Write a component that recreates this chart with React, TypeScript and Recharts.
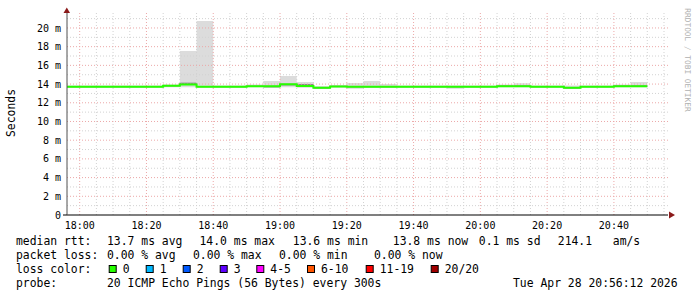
import React from 'react';
import { ComposedChart, Area, Line, XAxis, YAxis, ReferenceLine } from 'recharts';

// minutes relative to 18:00, start of each 5-minute step
const intervalStarts = [-5, 0, 5, 10, 15, 20, 25, 30, 35, 40, 45, 50, 55, 60, 65, 70, 75, 80, 85, 90, 95, 100, 105, 110, 115, 120, 125, 130, 135, 140, 145, 150, 155, 160, 165];
// median rtt in ms
const medianRtt = [13.72, 13.72, 13.72, 13.72, 13.72, 13.72, 13.82, 13.95, 13.72, 13.72, 13.72, 13.76, 13.76, 13.98, 13.8, 13.6, 13.75, 13.72, 13.72, 13.72, 13.72, 13.72, 13.72, 13.72, 13.72, 13.72, 13.78, 13.78, 13.72, 13.72, 13.6, 13.72, 13.72, 13.78, 13.78];
const smokeMin = [13.65, 13.65, 13.65, 13.65, 13.65, 13.65, 13.65, 13.65, 13.65, 13.65, 13.65, 13.65, 13.62, 13.65, 13.62, 13.5, 13.62, 13.5, 13.62, 13.62, 13.65, 13.65, 13.65, 13.5, 13.65, 13.65, 13.65, 13.65, 13.65, 13.65, 13.5, 13.65, 13.65, 13.65, 13.65];
const smokeMax = [13.85, 13.85, 13.85, 13.85, 13.85, 13.85, 13.95, 17.55, 20.75, 13.85, 13.85, 13.96, 14.33, 14.87, 14.22, 13.8, 13.9, 14.12, 14.33, 14.0, 13.85, 13.85, 13.85, 13.85, 13.85, 13.85, 13.95, 14.1, 13.85, 13.85, 13.85, 13.85, 13.85, 13.95, 14.22];
// darker core of the smoke (central pings)
const coreMin = [13.72, 13.72, 13.72, 13.72, 13.72, 13.72, 13.82, 13.95, 13.72, 13.72, 13.72, 13.76, 13.7, 13.9, 13.8, 13.6, 13.75, 13.72, 13.72, 13.72, 13.72, 13.72, 13.72, 13.72, 13.72, 13.72, 13.78, 13.78, 13.72, 13.72, 13.6, 13.72, 13.72, 13.78, 13.78];
const coreMax = [13.72, 13.72, 13.72, 13.72, 13.72, 13.72, 13.82, 14.1, 13.72, 13.72, 13.72, 13.76, 13.76, 13.98, 13.95, 13.6, 13.75, 13.72, 13.72, 13.72, 13.72, 13.72, 13.72, 13.72, 13.72, 13.72, 13.78, 13.78, 13.72, 13.72, 13.6, 13.72, 13.72, 13.78, 13.78];

const xDomain = [-3.8, 176.2];
const xTickValues = [0, 20, 40, 60, 80, 100, 120, 140, 160];
const xTickLabels = ['18:00', '18:20', '18:40', '19:00', '19:20', '19:40', '20:00', '20:20', '20:40'];
const xMinorGrid = [0, 5, 10, 15, 20, 25, 30, 35, 40, 45, 50, 55, 60, 65, 70, 75, 80, 85, 90, 95, 100, 105, 110, 115, 120, 125, 130, 135, 140, 145, 150, 155, 160, 165, 170, 175];
const yDomain = [0, 21.6];
const yTickValues = [0, 2, 4, 6, 8, 10, 12, 14, 16, 18, 20];
const yTickLabels = ['0', '2 m', '4 m', '6 m', '8 m', '10 m', '12 m', '14 m', '16 m', '18 m', '20 m'];
const yMinorGrid = [1, 3, 5, 7, 9, 11, 13, 15, 17, 19, 21];

const statsRow1 = [
  [16, 'median rtt:'], [107, '13.7 ms avg'], [199.5, '14.0 ms max'], [292.8, '13.6 ms min'],
  [392.8, '13.8 ms now'], [478.8, '0.1 ms sd'], [557.8, '214.1'], [612.8, 'am/s'],
];
const statsRow2 = [
  [16, 'packet loss:'], [107, '0.00 % avg'], [193, '0.00 % max'], [279, '0.00 % min'], [374, '0.00 % now'],
];
const lossLabels = ['0', '1', '2', '3', '4-5', '6-10', '11-19', '20/20'];
const lossColors = ['#26ff00', '#00b8ff', '#0059ff', '#5e00ff', '#ff00ff', '#ff5500', '#ff0000', '#a00000'];
const lossX = [108.7, 145.7, 182.7, 219.7, 256.3, 307, 365.7, 430.7];
const probeText = '20 ICMP Echo Pings (56 Bytes) every 300s';
const dateText = 'Tue Apr 28 20:56:12 2026';

const data = intervalStarts.map((t, i) => ({
  t,
  median: medianRtt[i],
  smoke: [smokeMin[i], smokeMax[i]],
  core: [coreMin[i], coreMax[i]],
}));
const lastIdx = intervalStarts.length - 1;
data.push({
  t: intervalStarts[lastIdx] + 5,
  median: medianRtt[lastIdx],
  smoke: [smokeMin[lastIdx], smokeMax[lastIdx]],
  core: [coreMin[lastIdx], coreMax[lastIdx]],
});

const mono = '"DejaVu Sans Mono", monospace';
const minorColor = '#d2d2d2';
const majorColor = '#eca8a8';

const YTick = (props: any) => {
  const { x, y, payload } = props;
  const label = yTickLabels[yTickValues.indexOf(payload.value)];
  return (
    <text x={61} y={y} dy="0.355em" textAnchor="end" fontFamily={mono} fontSize={10} fill="#000">
      {label}
    </text>
  );
};

const XTick = (props: any) => {
  const { x, y, payload } = props;
  const label = xTickLabels[xTickValues.indexOf(payload.value)];
  return (
    <text x={x} y={228.5} textAnchor="middle" fontFamily={mono} fontSize={10} fill="#000">
      {label}
    </text>
  );
};

export default function App() {
  return (
    <div style={{ position: 'absolute', left: 0, top: 0, width: 697, height: 297, background: '#ffffff' }}>
      <ComposedChart width={697} height={297} data={data} margin={{ top: 13, right: 29, bottom: 62, left: 0 }}>
        <XAxis
          dataKey="t"
          type="number"
          domain={xDomain}
          allowDataOverflow
          ticks={xTickValues}
          height={20}
          tickLine={false}
          axisLine={{ stroke: '#000000', strokeWidth: 1 }}
          tick={<XTick />}
          interval={0}
        />
        <YAxis
          type="number"
          domain={yDomain}
          allowDataOverflow
          ticks={yTickValues}
          width={67}
          tickLine={false}
          axisLine={{ stroke: '#505050', strokeWidth: 1 }}
          tick={<YTick />}
          interval={0}
        />
        <Area
          dataKey="smoke"
          type="stepAfter"
          stroke="none"
          fill="#dcdcdc"
          fillOpacity={1}
          isAnimationActive={false}
          activeDot={false}
        />
        {xMinorGrid.map((v) => (
          <ReferenceLine key={'xm' + v} x={v} stroke={xTickValues.includes(v) ? majorColor : minorColor} strokeDasharray="1 2" />
        ))}
        {yMinorGrid.map((v) => (
          <ReferenceLine key={'ym' + v} y={v} stroke={minorColor} strokeDasharray="1 2" />
        ))}
        {yTickValues.filter((v) => v > 0).map((v) => (
          <ReferenceLine key={'yM' + v} y={v} stroke={majorColor} strokeDasharray="1 2" />
        ))}
        <Area
          dataKey="core"
          type="stepAfter"
          stroke="#8a8a8a"
          strokeWidth={1}
          fill="#8a8a8a"
          fillOpacity={1}
          isAnimationActive={false}
          activeDot={false}
        />
        <Line
          dataKey="median"
          type="stepAfter"
          stroke="#26ff00"
          strokeWidth={2}
          dot={false}
          activeDot={false}
          isAnimationActive={false}
        />
      </ComposedChart>
      <svg width={697} height={297} style={{ position: 'absolute', left: 0, top: 0, pointerEvents: 'none' }}>
        <line x1={63} y1={215} x2={67} y2={215} stroke="#000000" strokeWidth={1} />
        <polygon points="63.5,13 70,13 66.8,7.5" fill="#8b1a1a" />
        <polygon points="669,211.5 669,218.5 675,215" fill="#8b1a1a" />
        <text x={15} y={113} transform="rotate(-90 15 113)" textAnchor="middle" fontFamily={mono} fontSize={11.4} fill="#000">Seconds</text>
        <text x={685} y={60} transform="rotate(90 685 60)" textAnchor="middle" fontFamily={mono} fontSize={7.8} fill="#b0b0b0">RRDTOOL / TOBI OETIKER</text>
        {statsRow1.map(([x, s]) => (
          <text key={'r1' + s} x={x as number} y={245} fontFamily={mono} fontSize={11.4} fill="#000">{s}</text>
        ))}
        {statsRow2.map(([x, s]) => (
          <text key={'r2' + s + x} x={x as number} y={259} fontFamily={mono} fontSize={11.4} fill="#000">{s}</text>
        ))}
        <text x={16} y={273} fontFamily={mono} fontSize={11.4} fill="#000">loss color:</text>
        {lossLabels.map((l, i) => (
          <g key={'lc' + l}>
            <rect x={lossX[i] + 0.5} y={265.5} width={7} height={7} fill={lossColors[i]} stroke="#000" strokeWidth={1} />
            <text x={lossX[i] + 14} y={273} fontFamily={mono} fontSize={11.4} fill="#000">{l}</text>
          </g>
        ))}
        <text x={16} y={287} fontFamily={mono} fontSize={11.4} fill="#000">probe:</text>
        <text x={107} y={287} fontFamily={mono} fontSize={11.4} fill="#000">{probeText}</text>
        <text x={513} y={287} fontFamily={mono} fontSize={11.4} fill="#000">{dateText}</text>
      </svg>
    </div>
  );
}
